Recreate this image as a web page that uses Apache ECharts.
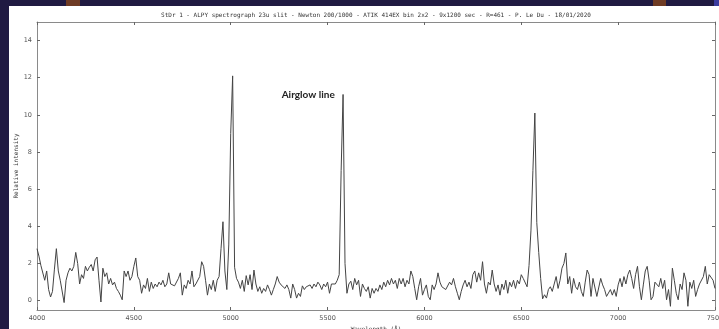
<!DOCTYPE html>
<html>
<head>
<meta charset="utf-8">
<script src="https://cdn.jsdelivr.net/npm/echarts@6/dist/echarts.min.js"></script>
<style>
html, body { margin: 0; padding: 0; background: #201a42; }
#chart { width: 719px; height: 329px; }
</style>
</head>
<body>
<div id="chart"></div>
<script>
// spectrum sampled every 10 A from 4000 A
var lambdaStart = 4000, lambdaStep = 10;

var flux4000 = [
	2.8, 2.4, 1.9, 1.85, 1.1, 1.6, 0.6, 0.2, 0.5, 1.7,
	2.8, 1.6, 1.1, 1.2, -0.1, 1.1, 1.5, 1.75, 1.6, 1.85,
	2.6, 2.0, 0.9, 1.4, 1.2, 1.85, 1.6, 1.8, 1.95, 1.6,
	2.2, 2.35, 1.1, -0.07, 1.75, 1.3, 1.5, 0.9, 1.2, 0.85,
	1.0, 0.66, 0.5, 0.3, 0.05, 1.6, 1.3, 1.6, 1.1, 1.3,
	1.85, 2.3, 1.3, 1.1, 0.4, 0.85, 0.66, 1.2, 0.5, 1.0,
	0.66, 0.9, 0.75, 1.0, 0.85, 1.1, 0.75, 0.9, 1.5, 0.9,
	0.85, 0.8, 0.75, 1.2, 1.5, 0.3, 0.85, 0.66, 1.1, 0.9,
	1.6, 0.75, 0.9, 0.85, 1.3, 2.1, 1.85, 1.1, 0.3, 0.9,
	0.6, 1.1, 0.5, 1.1, 1.3, 2.8, 4.25, 1.6, 0.6, 3.0 ];

var flux5000 = [
	9.0, 12.1, 1.8, 1.2, 1.0, 0.66, 1.1, 0.5, 1.35, 0.85,
	1.4, 0.6, 1.65, 0.9, 0.5, 0.75, 0.4, 0.66, 0.5, 0.85,
	0.6, 0.3, 0.6, 0.9, 1.3, 1.0, 0.85, 0.9, 0.66, 0.85,
	0.6, 0.14, 0.9, 0.6, 0.14, 0.4, 0.23, 0.8, 0.6, 0.75,
	0.66, 0.85, 0.66, 0.9, 0.75, 1.0, 0.85, 0.6, 0.9, 0.75,
	1.0, 0.4, 0.9, 1.0, 0.9, 1.1, 1.4, 7.0, 11.1, 2.0,
	0.4, 0.9, 1.05, 0.6, 1.2, 0.85, 1.1, 0.23, 0.9, 0.66,
	0.5, 0.75, 0.14, 0.66, 0.4, 0.66, 0.5, 0.85, 0.6, 1.0,
	0.75, 1.1, 0.85, 1.2, 0.9, 1.1, 0.66, 1.2, 0.9, 1.2,
	0.75, 1.1, 0.9, 1.6, 1.3, 0.66, 0.05, 0.75, 1.2, 0.3 ];

var flux6000 = [
	0.6, 0.85, 0.23, 0.05, 0.85, 0.6, 0.9, 1.5, 1.0, 0.75,
	0.85, 0.6, 0.66, 1.0, 0.85, 1.2, 0.75, 0.4, 0.05, 0.5,
	0.85, 1.1, 0.75, 1.0, 0.66, 1.4, 1.6, 1.0, 1.5, 1.1,
	2.1, 0.9, 0.4, 1.0, 0.85, 1.65, 0.9, 0.5, 0.85, 0.3,
	0.9, 0.6, 1.1, 0.4, 1.0, 0.75, 1.1, 0.66, 1.1, 0.9,
	1.4, 1.2, 1.3, 0.75, 1.9, 3.8, 7.0, 10.1, 4.2, 2.6,
	1.2, 0.1, 0.32, 0.14, 0.6, 0.75, 0.5, 0.9, 1.3, 0.66,
	1.1, 1.75, 2.0, 2.57, 0.9, 1.3, 0.4, 1.2, 0.75, 0.6,
	1.0, 0.5, 0.23, 1.0, 1.65, 1.4, 0.23, 1.2, 1.2, 0.23,
	0.3, 1.2, 0.85, 0.6, 0.23, 0.14, 0.6, 0.3, 0.6, 0.23 ];

var flux7000 = [
	0.85, 1.2, 0.75, 1.3, 0.9, 1.4, 1.65, 1.2, 0.66, 1.4,
	1.85, 0.75, 0.05, 0.85, 1.6, 1.85, 1.1, 0.05, 0.23, 1.0,
	1.1, 0.75, 1.2, 0.66, 1.1, 0.05, 0.6, -0.3, 1.75, 1.1,
	0.4, 0.05, 0.9, 0.6, 1.5, 1.1, -0.3, 1.0, 0.66, 1.1,
	0.23, 0.6, 0.9, 0.85, 1.3, 1.85, 0.9, 1.4, 1.5, 1.1,
	0.66 ];

var yTickValues = [ 0, 2, 4, 6, 8, 10, 12, 14 ];
var airglowAt = [ 5400, 11.1 ];

var titleText = 'StDr 1 - ALPY spectrograph 23u slit - Newton 200/1000 - ATIK 414EX bin 2x2 - 9x1200 sec - R=461 - P. Le Du - 18/01/2020';

var flux = flux4000.concat(flux5000, flux6000, flux7000);
var points = [];
for (var i = 0; i < flux.length; i++) {
	points.push([ lambdaStart + i * lambdaStep, flux[i] ]);
}

var chart = echarts.init(document.getElementById('chart'));

var frame = '#8a8a8a';
var tickFont = {
	fontSize : 6.5,
	color : '#555',
	fontFamily : 'DejaVu Sans',
	formatter : function(v) {
		return String(v);
	}
};

function xAxisOpt(pos, labels) {
	return {
		type : 'value',
		position : pos,
		min : 4000,
		max : 7500,
		interval : 500,
		axisLine : { show : true, onZero : false, lineStyle : { color : frame, width : 1 } },
		axisTick : { show : true, inside : true, length : 3, lineStyle : { color : '#666' } },
		axisLabel : labels ? Object.assign({ show : true, margin : 5 }, tickFont) : { show : false },
		splitLine : { show : false }
	};
}

function yAxisOpt(pos, labels) {
	return {
		type : 'value',
		position : pos,
		min : -0.5,
		max : 15,
		axisLine : { show : true, onZero : false, lineStyle : { color : frame, width : 1 } },
		axisTick : { show : true, inside : true, length : 3, customValues : yTickValues, lineStyle : { color : '#666' } },
		axisLabel : labels ? Object.assign({ show : true, margin : 5, customValues : yTickValues }, tickFont) : { show : false },
		splitLine : { show : false }
	};
}

var xBottom = xAxisOpt('bottom', true);
xBottom.name = 'Wavelength (Å)';
xBottom.nameLocation = 'middle';
xBottom.nameGap = 14;
xBottom.nameTextStyle = { fontSize : 6, color : '#333', fontFamily : 'DejaVu Sans Mono' };

chart.setOption({
	backgroundColor : '#201a42',
	animation : false,
	graphic : [ {
		type : 'rect',
		z : -10,
		shape : { x : 9, y : 6, width : 710, height : 323 },
		style : { fill : '#ffffff' }
	}, {
		type : 'rect',
		z : -10,
		shape : { x : 66, y : 0, width : 14, height : 6 },
		style : { fill : '#6e3b24' }
	}, {
		type : 'rect',
		z : -10,
		shape : { x : 653, y : 0, width : 13, height : 6 },
		style : { fill : '#6e3b24' }
	}, {
		type : 'rect',
		z : -10,
		shape : { x : 714, y : 0, width : 5, height : 6 },
		style : { fill : '#3b3b9e' }
	}, {
		type : 'text',
		x : 376,
		y : 15,
		style : {
			text : titleText,
			font : '6px "DejaVu Sans Mono"',
			fill : '#333',
			textAlign : 'center',
			textVerticalAlign : 'middle'
		}
	}, {
		type : 'text',
		x : 16,
		y : 166,
		rotation : Math.PI / 2,
		style : {
			text : 'Relative intensity',
			font : '6px "DejaVu Sans Mono"',
			fill : '#333',
			textAlign : 'center',
			textVerticalAlign : 'middle'
		}
	} ],
	grid : {
		left : 37,
		right : 4,
		top : 22,
		bottom : 19,
		containLabel : false,
		outerBoundsMode : 'none'
	},
	xAxis : [ xBottom, xAxisOpt('top', false) ],
	yAxis : [ yAxisOpt('left', true), yAxisOpt('right', false) ],
	series : [ {
		type : 'line',
		xAxisIndex : 0,
		yAxisIndex : 0,
		data : points,
		showSymbol : false,
		lineStyle : { color : '#444444', width : 1 },
		markPoint : {
			symbol : 'circle',
			symbolSize : 1,
			itemStyle : { color : 'rgba(0,0,0,0)' },
			label : {
				show : true,
				position : 'inside',
				formatter : 'Airglow line',
				color : '#222',
				fontFamily : 'Lato',
				fontWeight : 'bold',
				fontSize : 10
			},
			data : [ { coord : airglowAt } ]
		}
	} ]
});
</script>
</body>
</html>
